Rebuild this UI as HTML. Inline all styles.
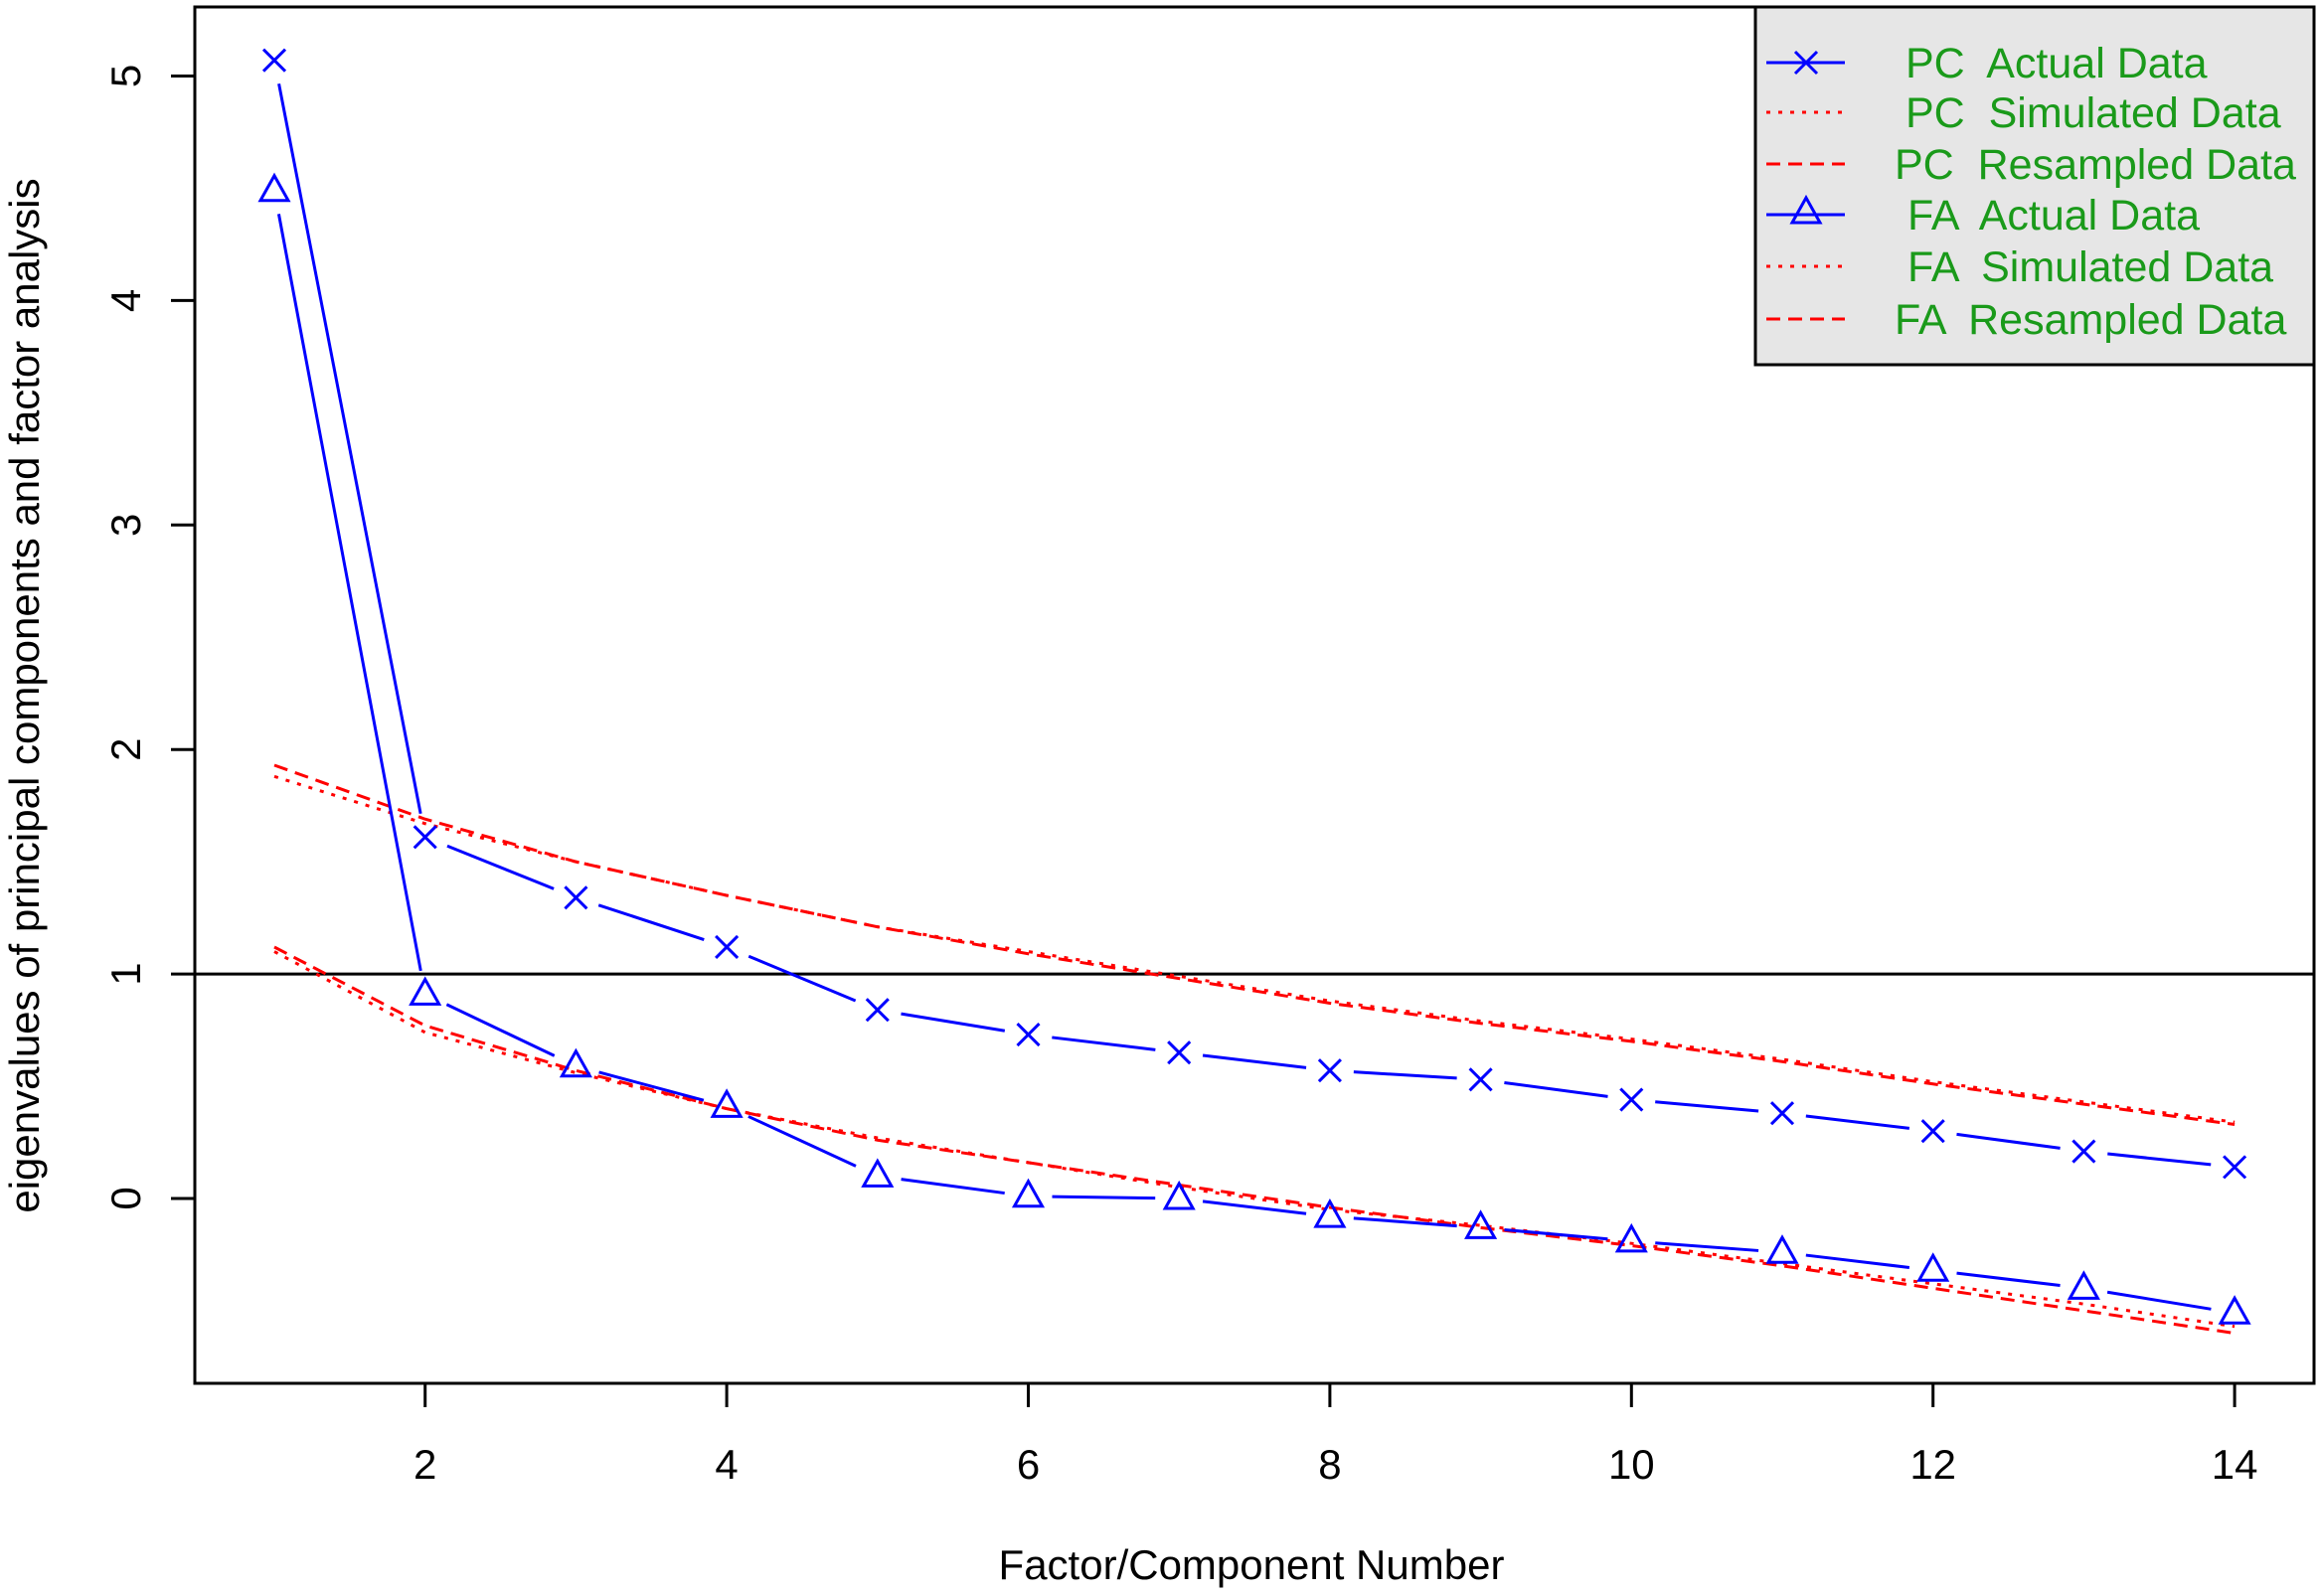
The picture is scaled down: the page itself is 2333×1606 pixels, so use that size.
<!DOCTYPE html>
<html><head><meta charset="utf-8"><style>
html,body{margin:0;padding:0;background:#fff;}
svg{display:block;font-family:"Liberation Sans",Arial,sans-serif;}
</style></head><body>
<svg id="chart" width="2333" height="1606" viewBox="0 0 2333 1606">
<g id="grid"></g><g id="series"></g><g id="axes"></g><g id="legend"></g>
</svg>
<script>
const xCats = [1,2,3,4,5,6,7,8,9,10,11,12,13,14];
const pcActual = [5.07,1.61,1.34,1.12,0.84,0.73,0.65,0.57,0.53,0.44,0.38,0.30,0.21,0.14];
const faActual = [4.49,0.91,0.59,0.41,0.10,0.01,0.00,-0.08,-0.13,-0.19,-0.24,-0.32,-0.40,-0.51];
const pcSimulated = [1.88,1.67,1.50,1.35,1.21,1.10,0.99,0.88,0.79,0.71,0.62,0.52,0.43,0.34];
const pcResampled = [1.93,1.69,1.50,1.35,1.21,1.09,0.98,0.87,0.78,0.70,0.61,0.51,0.42,0.33];
const faSimulated = [1.10,0.74,0.56,0.40,0.27,0.16,0.05,-0.05,-0.12,-0.20,-0.29,-0.38,-0.47,-0.57];
const faResampled = [1.12,0.77,0.57,0.40,0.26,0.16,0.06,-0.04,-0.13,-0.21,-0.30,-0.40,-0.50,-0.60];
const xTicks = [2,4,6,8,10,12,14];
const yTicks = [0,1,2,3,4,5];
const refLine = 1;

const NS="http://www.w3.org/2000/svg";
const L=196,R=2328,T=7,B=1392;
function sx(v){return 276+(v-1)*151.7;}
function sy(v){return 1206-v*225.9;}
function mk(tag,attrs,parent){const e=document.createElementNS(NS,tag);for(const k in attrs)e.setAttribute(k,attrs[k]);parent.appendChild(e);return e;}
const gS=document.getElementById('series'),gA=document.getElementById('axes'),gL=document.getElementById('legend'),gG=document.getElementById('grid');

const rl=mk('line',{x1:L,x2:R,y1:sy(refLine),y2:sy(refLine),stroke:'#000','stroke-width':3},gG);



function redLine(vals,dash,name){
  const p=mk('polyline',{points:vals.map((v,i)=>sx(xCats[i])+','+sy(v)).join(' '),fill:'none',stroke:'#ff0000','stroke-width':3,'stroke-dasharray':dash},gS);
  
  
}
redLine(pcSimulated,'4 8','pc-simulated-line');
redLine(pcResampled,'14 8','pc-resampled-line');
redLine(faSimulated,'4 8','fa-simulated-line');
redLine(faResampled,'14 8','fa-resampled-line');

function marker(type,x,y,parent){
  if(type==='x'){
    const d=11;
    return mk('path',{d:`M${x-d},${y-d}L${x+d},${y+d}M${x-d},${y+d}L${x+d},${y-d}`,stroke:'#0000ff','stroke-width':3,fill:'none'},parent);
  } else {
    const h=15;
    return mk('path',{d:`M${x},${y-h}L${x+14},${y+10}L${x-14},${y+10}Z`,stroke:'#0000ff','stroke-width':3,fill:'none'},parent);
  }
}
function actualSeries(vals,type,name){
  const g=mk('g',{},gS);
  
  
  const gap=24;
  for(let i=0;i<vals.length-1;i++){
    const x1=sx(xCats[i]),y1=sy(vals[i]),x2=sx(xCats[i+1]),y2=sy(vals[i+1]);
    const dx=x2-x1,dy=y2-y1,len=Math.hypot(dx,dy);
    if(len>2*gap){
      const ux=dx/len,uy=dy/len;
      const s=mk('line',{x1:x1+ux*gap,y1:y1+uy*gap,x2:x2-ux*gap,y2:y2-uy*gap,stroke:'#0000ff','stroke-width':3},g);
      
      
    }
  }
  vals.forEach((v,i)=>{
    const m=marker(type,sx(xCats[i]),sy(v),g);
    
    
  });
}
actualSeries(pcActual,'x','pc-actual-series');
actualSeries(faActual,'tri','fa-actual-series');

const box=mk('rect',{x:L,y:T,width:R-L,height:B-T,fill:'none',stroke:'#000','stroke-width':3},gA);


xTicks.forEach(t=>{
  const tk=mk('line',{x1:sx(t),x2:sx(t),y1:B,y2:B+24,stroke:'#000','stroke-width':3},gA);
  
  
  const tx=mk('text',{x:sx(t),y:1488,'text-anchor':'middle','font-size':42,fill:'#000'},gA);
  tx.textContent=t;
  
  
});
yTicks.forEach(t=>{
  const tk=mk('line',{x1:L-24,x2:L,y1:sy(t),y2:sy(t),stroke:'#000','stroke-width':3},gA);
  
  
  const tx=mk('text',{x:0,y:0,'text-anchor':'middle','font-size':42,fill:'#000',transform:`translate(141,${sy(t)}) rotate(-90)`},gA);
  tx.textContent=t;
  
  
});
const xt=mk('text',{x:1259,y:1589,'text-anchor':'middle','font-size':42,fill:'#000'},gA);
xt.textContent='Factor/Component Number';


const yt=mk('text',{x:0,y:0,'text-anchor':'middle','font-size':42,fill:'#000',transform:'translate(39,700) rotate(-90)'},gA);
yt.textContent='eigenvalues of principal components and factor analysis';



const lg=mk('rect',{x:1766,y:7,width:R-1766,height:360,fill:'#e6e6e6',stroke:'#000','stroke-width':3},gL);


const legLabels=['PC  Actual Data','PC  Simulated Data','PC  Resampled Data','FA  Actual Data','FA  Simulated Data','FA  Resampled Data'];
const legTypes=['x','dot','dash','tri','dot','dash'];
const legY=[63,113,165,216,268,321];
const legX=[1917,1917,1906,1919,1919,1906];
legLabels.forEach((lab,i)=>{
  const g=mk('g',{},gL);
  
  
  const y=legY[i];
  const ty=legTypes[i];
  if(ty==='x'||ty==='tri'){
    mk('line',{x1:1777,x2:1856,y1:y,y2:y,stroke:'#0000ff','stroke-width':3},g);
    marker(ty,1817,ty==='x'?y:y-2,g);
  } else {
    mk('line',{x1:1777,x2:1856,y1:y,y2:y,stroke:'#ff0000','stroke-width':3,'stroke-dasharray':ty==='dot'?'4 8':'14 8'},g);
  }
  const t=mk('text',{x:legX[i],y:y+15,'font-size':43,fill:'#1a9a1a','xml:space':'preserve'},g);
  t.style.whiteSpace='pre';
  t.textContent=lab;
});
</script>
</body></html>
